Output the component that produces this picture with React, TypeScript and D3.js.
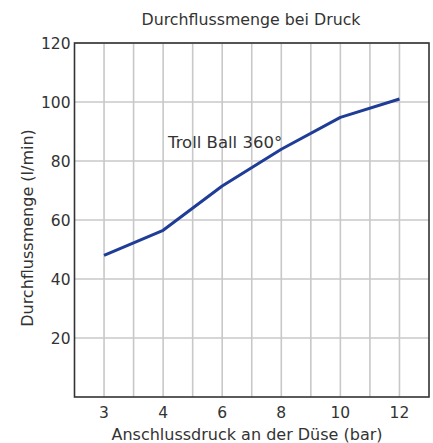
import React from 'react';
import * as d3 from 'd3';

const pressures = ['3', '4', '6', '8', '10', '12'];
const flow = [48, 56.5, 71.5, 84, 94.8, 101];
const yTicks = [20, 40, 60, 80, 100, 120];
const seriesName = 'Troll Ball 360°';

const W = 433;
const H = 443;
const margin = { top: 43, right: 4, bottom: 46, left: 74.5 };

const App: React.FC = () => {
  const x = d3
    .scaleBand<string>()
    .domain(pressures)
    .range([margin.left, W - margin.right])
    .padding(0);
  const y = d3.scaleLinear().domain([0, 120]).range([H - margin.bottom, margin.top]);

  const bw = x.bandwidth();
  // vertical grid at band edges and centres
  const vGrid: number[] = [];
  pressures.forEach((p, i) => {
    const x0 = x(p)!;
    if (i > 0) vGrid.push(x0);
    vGrid.push(x0 + bw / 2);
  });

  const line = d3
    .line<number>()
    .x((_, i) => x(pressures[i])! + bw / 2)
    .y((d) => y(d));

  const font = '"DejaVu Sans", Verdana, sans-serif';
  const left = margin.left;
  const right = W - margin.right;
  const top = margin.top;
  const bottom = H - margin.bottom;

  return (
    <svg
      width={W}
      height={H}
      style={{ position: 'absolute', left: 0, top: 0, background: '#fff' }}
      fontFamily={font}
    >
      <text x={251} y={25} textAnchor="middle" fontSize={15.8} fill="#333">
        Durchflussmenge bei Druck
      </text>

      {vGrid.map((gx, i) => (
        <line key={'v' + i} x1={gx} x2={gx} y1={top} y2={bottom} stroke="#c8c8c8" strokeWidth={1.6} />
      ))}
      {yTicks.map((t) => (
        <line key={'h' + t} x1={left} x2={right} y1={y(t)} y2={y(t)} stroke="#c8c8c8" strokeWidth={1.6} />
      ))}

      <rect
        x={left}
        y={top}
        width={right - left}
        height={bottom - top}
        fill="none"
        stroke="#333"
        strokeWidth={1.6}
      />

      {yTicks.map((t) => (
        <text key={'yl' + t} x={70.5} y={y(t)} dy="0.36em" textAnchor="end" fontSize={15.5} fill="#333">
          {t}
        </text>
      ))}
      {pressures.map((p) => (
        <text key={'xl' + p} x={x(p)! + bw / 2} y={418} textAnchor="middle" fontSize={15.5} fill="#333">
          {p}
        </text>
      ))}

      <text x={247} y={440} textAnchor="middle" fontSize={16} fill="#333">
        Anschlussdruck an der Düse (bar)
      </text>
      <text
        transform={`translate(33, 228) rotate(-90)`}
        textAnchor="middle"
        fontSize={16}
        fill="#333"
      >
        Durchflussmenge (l/min)
      </text>

      <path d={line(flow) || ''} fill="none" stroke="#1f3d96" strokeWidth={3} strokeLinejoin="round" />

      <text x={168} y={148} fontSize={16.5} fill="#333">
        {seriesName}
      </text>
    </svg>
  );
};

export default App;
